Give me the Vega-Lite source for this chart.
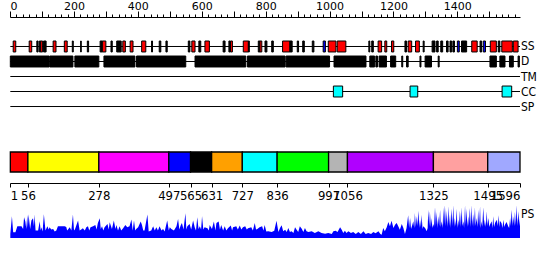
{
  "$schema": "https://vega.github.io/schema/vega-lite/v6.json",
  "padding": {"left": 9, "top": 0, "right": 0, "bottom": 0},
  "spacing": 33,
  "resolve": {"scale": {"fill": "independent"}},
  "config": {"view": {"stroke": null}, "font": "DejaVu Sans Condensed", "text": {"font": "DejaVu Sans Condensed"}},
  "datasets": {
    "lines": [
      {"track": "SS", "s": 1, "e": 1596},
      {"track": "D", "s": 1, "e": 1596},
      {"track": "TM", "s": 1, "e": 1596},
      {"track": "CC", "s": 1, "e": 1596},
      {"track": "SP", "s": 1, "e": 1596}
    ],
    "tracklabels": [
      {"track": "SS", "s": 1596},
      {"track": "D", "s": 1596},
      {"track": "TM", "s": 1596},
      {"track": "CC", "s": 1596},
      {"track": "SP", "s": 1596}
    ],
    "boxes": [
      {"track": "SS", "s": 10, "e": 18, "t": "H"},
      {"track": "SS", "s": 60, "e": 68, "t": "H"},
      {"track": "SS", "s": 84, "e": 88, "t": "E"},
      {"track": "SS", "s": 92, "e": 96, "t": "E"},
      {"track": "SS", "s": 96, "e": 102, "t": "H"},
      {"track": "SS", "s": 105, "e": 113, "t": "E"},
      {"track": "SS", "s": 135, "e": 144, "t": "H"},
      {"track": "SS", "s": 170, "e": 179, "t": "H"},
      {"track": "SS", "s": 195, "e": 198, "t": "E"},
      {"track": "SS", "s": 221, "e": 223, "t": "E"},
      {"track": "SS", "s": 242, "e": 246, "t": "E"},
      {"track": "SS", "s": 282, "e": 289, "t": "E"},
      {"track": "SS", "s": 289, "e": 300, "t": "H"},
      {"track": "SS", "s": 316, "e": 320, "t": "E"},
      {"track": "SS", "s": 334, "e": 348, "t": "E"},
      {"track": "SS", "s": 353, "e": 361, "t": "H"},
      {"track": "SS", "s": 376, "e": 385, "t": "H"},
      {"track": "SS", "s": 412, "e": 425, "t": "H"},
      {"track": "SS", "s": 443, "e": 446, "t": "E"},
      {"track": "SS", "s": 467, "e": 472, "t": "E"},
      {"track": "SS", "s": 488, "e": 492, "t": "E"},
      {"track": "SS", "s": 558, "e": 563, "t": "E"},
      {"track": "SS", "s": 569, "e": 579, "t": "H"},
      {"track": "SS", "s": 591, "e": 597, "t": "E"},
      {"track": "SS", "s": 610, "e": 624, "t": "H"},
      {"track": "SS", "s": 667, "e": 673, "t": "E"},
      {"track": "SS", "s": 685, "e": 689, "t": "E"},
      {"track": "SS", "s": 690, "e": 696, "t": "H"},
      {"track": "SS", "s": 730, "e": 746, "t": "H"},
      {"track": "SS", "s": 746, "e": 749, "t": "E"},
      {"track": "SS", "s": 777, "e": 782, "t": "E"},
      {"track": "SS", "s": 782, "e": 788, "t": "H"},
      {"track": "SS", "s": 798, "e": 804, "t": "E"},
      {"track": "SS", "s": 819, "e": 824, "t": "E"},
      {"track": "SS", "s": 853, "e": 876, "t": "H"},
      {"track": "SS", "s": 876, "e": 883, "t": "E"},
      {"track": "SS", "s": 899, "e": 903, "t": "E"},
      {"track": "SS", "s": 916, "e": 921, "t": "E"},
      {"track": "SS", "s": 946, "e": 951, "t": "E"},
      {"track": "SS", "s": 980, "e": 987, "t": "X"},
      {"track": "SS", "s": 996, "e": 1020, "t": "H"},
      {"track": "SS", "s": 1024, "e": 1051, "t": "H"},
      {"track": "SS", "s": 1123, "e": 1126, "t": "E"},
      {"track": "SS", "s": 1132, "e": 1137, "t": "E"},
      {"track": "SS", "s": 1152, "e": 1163, "t": "H"},
      {"track": "SS", "s": 1173, "e": 1179, "t": "H"},
      {"track": "SS", "s": 1194, "e": 1201, "t": "H"},
      {"track": "SS", "s": 1236, "e": 1241, "t": "E"},
      {"track": "SS", "s": 1246, "e": 1257, "t": "H"},
      {"track": "SS", "s": 1269, "e": 1281, "t": "H"},
      {"track": "SS", "s": 1293, "e": 1296, "t": "E"},
      {"track": "SS", "s": 1321, "e": 1330, "t": "E"},
      {"track": "SS", "s": 1335, "e": 1340, "t": "E"},
      {"track": "SS", "s": 1348, "e": 1354, "t": "E"},
      {"track": "SS", "s": 1366, "e": 1371, "t": "E"},
      {"track": "SS", "s": 1377, "e": 1382, "t": "E"},
      {"track": "SS", "s": 1386, "e": 1391, "t": "E"},
      {"track": "SS", "s": 1400, "e": 1406, "t": "X"},
      {"track": "SS", "s": 1413, "e": 1429, "t": "E"},
      {"track": "SS", "s": 1445, "e": 1462, "t": "H"},
      {"track": "SS", "s": 1471, "e": 1476, "t": "E"},
      {"track": "SS", "s": 1481, "e": 1488, "t": "X"},
      {"track": "SS", "s": 1503, "e": 1522, "t": "H"},
      {"track": "SS", "s": 1528, "e": 1533, "t": "E"},
      {"track": "SS", "s": 1539, "e": 1572, "t": "H"},
      {"track": "SS", "s": 1575, "e": 1590, "t": "H"},
      {"track": "D", "s": 1, "e": 123, "t": "D"},
      {"track": "D", "s": 125, "e": 197, "t": "D"},
      {"track": "D", "s": 203, "e": 278, "t": "D"},
      {"track": "D", "s": 294, "e": 391, "t": "D"},
      {"track": "D", "s": 396, "e": 550, "t": "D"},
      {"track": "D", "s": 579, "e": 738, "t": "D"},
      {"track": "D", "s": 743, "e": 861, "t": "D"},
      {"track": "D", "s": 864, "e": 1000, "t": "D"},
      {"track": "D", "s": 1014, "e": 1114, "t": "D"},
      {"track": "D", "s": 1126, "e": 1141, "t": "D"},
      {"track": "D", "s": 1145, "e": 1150, "t": "D"},
      {"track": "D", "s": 1155, "e": 1178, "t": "D"},
      {"track": "D", "s": 1191, "e": 1207, "t": "D"},
      {"track": "D", "s": 1226, "e": 1229, "t": "D"},
      {"track": "D", "s": 1241, "e": 1246, "t": "D"},
      {"track": "D", "s": 1283, "e": 1286, "t": "D"},
      {"track": "D", "s": 1299, "e": 1319, "t": "D"},
      {"track": "D", "s": 1340, "e": 1343, "t": "D"},
      {"track": "D", "s": 1502, "e": 1522, "t": "D"},
      {"track": "D", "s": 1533, "e": 1549, "t": "D"},
      {"track": "D", "s": 1563, "e": 1575, "t": "D"},
      {"track": "D", "s": 1590, "e": 1594, "t": "D"},
      {"track": "CC", "s": 1012, "e": 1041, "t": "C"},
      {"track": "CC", "s": 1252, "e": 1276, "t": "C"},
      {"track": "CC", "s": 1540, "e": 1570, "t": "C"}
    ],
    "domains": [
      {"seg": "d1", "s": 1, "e": 56},
      {"seg": "d2", "s": 56, "e": 278},
      {"seg": "d3", "s": 278, "e": 497},
      {"seg": "d4", "s": 497, "e": 565},
      {"seg": "d5", "s": 565, "e": 631},
      {"seg": "d6", "s": 631, "e": 727},
      {"seg": "d7", "s": 727, "e": 836},
      {"seg": "d8", "s": 836, "e": 997},
      {"seg": "d9", "s": 997, "e": 1056},
      {"seg": "d10", "s": 1056, "e": 1325},
      {"seg": "d11", "s": 1325, "e": 1495},
      {"seg": "d12", "s": 1495, "e": 1596}
    ],
    "ps": [
      {"p":1,"v":4},{"p":6,"v":21.7},{"p":10,"v":5.7},{"p":17,"v":5.7},{"p":23,"v":11.7},{"p":36,"v":11.7},{"p":41,"v":9},{"p":44,"v":20.7},{"p":48,"v":16.4},{"p":51,"v":9},{"p":54,"v":23},{"p":56,"v":10.7},{"p":58,"v":23.7},{"p":63,"v":9},{"p":67,"v":17.4},{"p":72,"v":19.7},{"p":75,"v":11.7},{"p":77,"v":23.4},{"p":80,"v":7.4},{"p":88,"v":7.4},{"p":93,"v":16.7},{"p":96,"v":7.4},{"p":98,"v":10.7},{"p":102,"v":6.4},{"p":106,"v":23.7},{"p":111,"v":7.4},{"p":117,"v":11.7},{"p":121,"v":8.4},{"p":124,"v":10.7},{"p":129,"v":8.4},{"p":135,"v":9},{"p":140,"v":6.4},{"p":145,"v":7.4},{"p":150,"v":11.7},{"p":161,"v":11.7},{"p":171,"v":11.7},{"p":176,"v":11},{"p":179,"v":7.4},{"p":187,"v":10.7},{"p":192,"v":7.4},{"p":197,"v":23.4},{"p":200,"v":9},{"p":202,"v":7.4},{"p":208,"v":13},{"p":213,"v":17.4},{"p":218,"v":7.4},{"p":223,"v":8.4},{"p":228,"v":9.7},{"p":234,"v":7.4},{"p":239,"v":10.7},{"p":244,"v":11.7},{"p":248,"v":7.4},{"p":252,"v":10.7},{"p":260,"v":11.7},{"p":267,"v":13},{"p":271,"v":8.4},{"p":275,"v":15},{"p":281,"v":19.7},{"p":284,"v":9},{"p":288,"v":11.7},{"p":292,"v":7.4},{"p":296,"v":10.7},{"p":305,"v":14},{"p":309,"v":8.4},{"p":312,"v":15.7},{"p":319,"v":9},{"p":325,"v":17.4},{"p":330,"v":9},{"p":333,"v":13},{"p":338,"v":7.4},{"p":343,"v":11.7},{"p":348,"v":7.4},{"p":354,"v":9.7},{"p":361,"v":13},{"p":367,"v":10.7},{"p":374,"v":11.7},{"p":380,"v":18.4},{"p":384,"v":7.4},{"p":388,"v":17.4},{"p":392,"v":7.4},{"p":395,"v":9},{"p":401,"v":10.7},{"p":409,"v":16.4},{"p":413,"v":13},{"p":417,"v":7.4},{"p":421,"v":7.4},{"p":430,"v":23.4},{"p":434,"v":6.4},{"p":442,"v":7.4},{"p":448,"v":11.7},{"p":453,"v":7.4},{"p":458,"v":10.7},{"p":463,"v":7.4},{"p":468,"v":11.7},{"p":474,"v":7.4},{"p":479,"v":9},{"p":484,"v":6.4},{"p":492,"v":17.4},{"p":497,"v":7.4},{"p":500,"v":10.7},{"p":505,"v":9},{"p":513,"v":7.4},{"p":521,"v":11.7},{"p":526,"v":19},{"p":530,"v":8.4},{"p":534,"v":12.4},{"p":538,"v":15},{"p":543,"v":8.4},{"p":549,"v":24.7},{"p":552,"v":8.4},{"p":555,"v":11.7},{"p":562,"v":14},{"p":567,"v":8.4},{"p":573,"v":17.4},{"p":578,"v":10.7},{"p":582,"v":7.4},{"p":586,"v":20.7},{"p":590,"v":9},{"p":594,"v":11.7},{"p":598,"v":8.4},{"p":601,"v":21.7},{"p":605,"v":8.4},{"p":609,"v":10.7},{"p":618,"v":9.7},{"p":622,"v":7.4},{"p":625,"v":13},{"p":632,"v":9},{"p":638,"v":16.4},{"p":643,"v":7.4},{"p":646,"v":15},{"p":653,"v":16.4},{"p":657,"v":8.4},{"p":661,"v":13},{"p":667,"v":7.4},{"p":672,"v":11.7},{"p":677,"v":7.4},{"p":682,"v":9.7},{"p":691,"v":12.4},{"p":695,"v":7.4},{"p":698,"v":10.7},{"p":708,"v":11.7},{"p":713,"v":8.4},{"p":719,"v":12.4},{"p":724,"v":8.4},{"p":729,"v":10.7},{"p":736,"v":11.7},{"p":741,"v":8.4},{"p":745,"v":9.7},{"p":755,"v":10.7},{"p":760,"v":7.4},{"p":766,"v":15},{"p":770,"v":8.4},{"p":774,"v":9},{"p":781,"v":10.7},{"p":789,"v":11.7},{"p":793,"v":7.4},{"p":797,"v":13},{"p":802,"v":6.4},
      {"p":808,"v":6.7},{"p":819,"v":6},{"p":827,"v":7.3},{"p":834,"v":17.3},{"p":840,"v":6},{"p":845,"v":10},{"p":850,"v":12.7},{"p":855,"v":6.7},{"p":861,"v":8.3},{"p":866,"v":6},{"p":871,"v":10},{"p":876,"v":6},{"p":881,"v":6.7},{"p":887,"v":5},{"p":892,"v":10.7},{"p":897,"v":8.3},{"p":902,"v":6},{"p":907,"v":11.7},{"p":913,"v":9.3},{"p":918,"v":6},{"p":923,"v":10},{"p":928,"v":6.7},{"p":934,"v":6},{"p":944,"v":6.7},{"p":954,"v":5},{"p":965,"v":6.7},{"p":975,"v":5},{"p":986,"v":4.3},{"p":996,"v":5},{"p":1007,"v":4},{"p":1012,"v":6.7},{"p":1019,"v":7.3},{"p":1025,"v":6},{"p":1033,"v":10.7},{"p":1038,"v":8.3},{"p":1043,"v":5},{"p":1048,"v":7.3},{"p":1053,"v":5},{"p":1059,"v":6.7},{"p":1067,"v":5},{"p":1074,"v":6},{"p":1082,"v":4},{"p":1090,"v":6},{"p":1098,"v":4},{"p":1106,"v":6.7},{"p":1113,"v":4},{"p":1121,"v":5},{"p":1130,"v":4},{"p":1137,"v":6},{"p":1144,"v":4.7},{"p":1153,"v":6.7},{"p":1159,"v":4},{"p":1163,"v":3.3},{"p":1168,"v":10},{"p":1173,"v":6.7},{"p":1179,"v":10.7},{"p":1184,"v":16},{"p":1189,"v":11.7},{"p":1194,"v":17.3},{"p":1200,"v":10},{"p":1205,"v":13.3},{"p":1210,"v":15},{"p":1215,"v":11.7},{"p":1220,"v":8.3},{"p":1226,"v":14},{"p":1231,"v":10},{"p":1236,"v":4},
      {"p":1241,"v":10},{"p":1246,"v":22.7},{"p":1249,"v":10},{"p":1252,"v":20},{"p":1255,"v":9},{"p":1258,"v":12},{"p":1262,"v":16.7},{"p":1265,"v":10},{"p":1267,"v":25},{"p":1270,"v":11},{"p":1273,"v":21.7},{"p":1275,"v":12},{"p":1278,"v":27.3},{"p":1281,"v":10},{"p":1283,"v":18.3},{"p":1286,"v":11},{"p":1288,"v":23.3},{"p":1291,"v":9},{"p":1293,"v":11.7},{"p":1299,"v":10},{"p":1304,"v":6.7},{"p":1307,"v":10},{"p":1309,"v":28.3},{"p":1312,"v":12},{"p":1314,"v":26.7},{"p":1317,"v":11},{"p":1319,"v":20},{"p":1322,"v":10},{"p":1325,"v":14},{"p":1327,"v":11},{"p":1330,"v":30.7},{"p":1333,"v":12},{"p":1335,"v":26},{"p":1338,"v":10},{"p":1340,"v":21.7},{"p":1343,"v":12},{"p":1346,"v":28.3},{"p":1348,"v":11},{"p":1351,"v":16.7},{"p":1354,"v":10},{"p":1356,"v":30.7},{"p":1358,"v":13},{"p":1361,"v":32.7},{"p":1364,"v":12},{"p":1366,"v":27.3},{"p":1369,"v":11},{"p":1372,"v":31.7},{"p":1374,"v":12},{"p":1377,"v":23.3},{"p":1379,"v":10},{"p":1382,"v":29.3},{"p":1385,"v":12},{"p":1387,"v":32.7},{"p":1390,"v":11},{"p":1392,"v":20},{"p":1395,"v":12},{"p":1398,"v":29.3},{"p":1400,"v":10},{"p":1403,"v":18.3},{"p":1405,"v":12},{"p":1408,"v":27.3},{"p":1411,"v":11},{"p":1413,"v":30.7},{"p":1416,"v":12},{"p":1419,"v":16.7},{"p":1421,"v":10},{"p":1424,"v":32.7},{"p":1426,"v":13},{"p":1429,"v":29.3},{"p":1431,"v":11},{"p":1434,"v":21.7},{"p":1436,"v":12},{"p":1439,"v":30},{"p":1442,"v":11},{"p":1445,"v":32.7},{"p":1447,"v":12},{"p":1450,"v":24},{"p":1452,"v":11},{"p":1455,"v":30.7},{"p":1457,"v":12},{"p":1460,"v":20},{"p":1463,"v":11},{"p":1465,"v":28.3},{"p":1468,"v":12},{"p":1471,"v":31.7},{"p":1473,"v":10},{"p":1476,"v":16.7},{"p":1478,"v":11},{"p":1481,"v":30.7},{"p":1484,"v":12},{"p":1486,"v":18.3},{"p":1489,"v":11},{"p":1492,"v":26.7},{"p":1494,"v":12},{"p":1497,"v":20},{"p":1500,"v":11},{"p":1502,"v":13.3},{"p":1507,"v":16.7},{"p":1510,"v":10},{"p":1512,"v":21.7},{"p":1515,"v":11},{"p":1518,"v":15},{"p":1523,"v":18.3},{"p":1526,"v":12},{"p":1528,"v":22.7},{"p":1531,"v":11},{"p":1533,"v":17.3},{"p":1538,"v":15},{"p":1541,"v":10},{"p":1544,"v":18.3},{"p":1547,"v":11},{"p":1549,"v":13.3},{"p":1554,"v":16},{"p":1559,"v":11.7},{"p":1562,"v":10},{"p":1565,"v":20},{"p":1567,"v":12},{"p":1570,"v":28.3},{"p":1573,"v":12},{"p":1575,"v":21.7},{"p":1578,"v":12},{"p":1580,"v":26},{"p":1583,"v":13},{"p":1585,"v":32.7},{"p":1588,"v":12},{"p":1591,"v":26.7},{"p":1594,"v":12},{"p":1596,"v":20}
    ],
    "pslabel": [{"p": 1596, "v": 24, "label": "PS"}]
  },
  "vconcat": [
    {
      "width": 510,
      "height": 101,
      "encoding": {
        "x": {"field": "s", "type": "quantitative",
          "scale": {"domain": [0, 1596], "nice": false, "zero": false},
          "axis": {"orient": "top", "title": null, "grid": false, "format": "d",
            "values": [0,20,40,60,80,100,120,140,160,180,200,220,240,260,280,300,320,340,360,380,400,420,440,460,480,500,520,540,560,580,600,620,640,660,680,700,720,740,760,780,800,820,840,860,880,900,920,940,960,980,1000,1020,1040,1060,1080,1100,1120,1140,1160,1180,1200,1220,1240,1260,1280,1300,1320,1340,1360,1380,1400,1420,1440,1460,1480,1500,1520,1540,1560,1580],
            "labelExpr": "datum.value % 200 === 0 ? datum.label : ''",
            "tickSize": {"condition": {"test": "datum.value % 100 === 0", "value": 6}, "value": 3},
            "labelOverlap": false, "labelFontSize": 11, "labelPadding": 0, "labelColor": "black",
            "domainColor": "black", "tickColor": "black", "labelFont": "DejaVu Sans"}},
        "y": {"field": "track", "type": "nominal",
          "scale": {"type": "band", "domain": ["SS", "D", "TM", "CC", "SP"], "paddingInner": 0.27, "paddingOuter": 1, "align": 0.8},
          "axis": null}
      },
      "layer": [
        {
          "data": {"name": "lines"},
          "mark": {"type": "rule", "color": "black", "strokeWidth": 1},
          "encoding": {"x2": {"field": "e"}}
        },
        {
          "data": {"name": "boxes"},
          "mark": {"type": "rect", "stroke": "black", "strokeWidth": 1},
          "encoding": {
            "x2": {"field": "e"},
            "fill": {"field": "t", "type": "nominal", "legend": null,
              "scale": {"domain": ["H", "E", "X", "D", "C"], "range": ["#ff0000", "#000000", "#0000ff", "#000000", "#00ffff"]}}
          }
        },
        {
          "data": {"name": "tracklabels"},
          "mark": {"type": "text", "align": "left", "baseline": "middle", "dx": 1, "fontSize": 12, "color": "black", "font": "DejaVu Sans Condensed"},
          "encoding": {"text": {"field": "track"}}
        }
      ]
    },
    {
      "spacing": 2,
      "resolve": {"scale": {"fill": "independent"}},
      "vconcat": [
        {
          "width": 510,
          "height": 20,
          "data": {"name": "domains"},
          "mark": {"type": "rect", "stroke": "black", "strokeWidth": 1.3},
          "encoding": {
            "x": {"field": "s", "type": "quantitative",
              "scale": {"domain": [0, 1596], "nice": false, "zero": false},
              "axis": {"orient": "bottom", "title": null, "grid": false, "format": "d",
                "values": [1, 56, 278, 497, 565, 631, 727, 836, 997, 1056, 1325, 1495, 1596],
                "offset": 11, "tickSize": 4, "labelOverlap": false, "labelFontSize": 13, "labelPadding": 2,
                "labelColor": "black", "domainColor": "black", "tickColor": "black", "labelFont": "DejaVu Sans Condensed", "labelBound": false}},
            "x2": {"field": "e"},
            "fill": {"field": "seg", "type": "nominal", "legend": null,
              "scale": {"domain": ["d1","d2","d3","d4","d5","d6","d7","d8","d9","d10","d11","d12"],
                "range": ["#ff0000","#ffff00","#ff00ff","#0000ff","#000000","#ffa000","#00ffff","#00ff00","#b4b4b4","#b000ff","#ffa0a0","#a0a8ff"]}}
          }
        },
        {
          "width": 510,
          "height": 34,
          "encoding": {
            "x": {"field": "p", "type": "quantitative", "scale": {"domain": [0, 1596], "nice": false, "zero": false}, "axis": null},
            "y": {"field": "v", "type": "quantitative", "scale": {"domain": [0, 34], "nice": false}, "axis": null}
          },
          "layer": [
            {
              "data": {"name": "ps"},
              "mark": {"type": "area", "color": "#0000ff", "interpolate": "linear"}
            },
            {
              "data": {"name": "pslabel"},
              "mark": {"type": "text", "align": "left", "baseline": "middle", "dx": 1, "fontSize": 12, "color": "black", "font": "DejaVu Sans Condensed"},
              "encoding": {"text": {"field": "label"}}
            }
          ]
        }
      ]
    }
  ]
}
